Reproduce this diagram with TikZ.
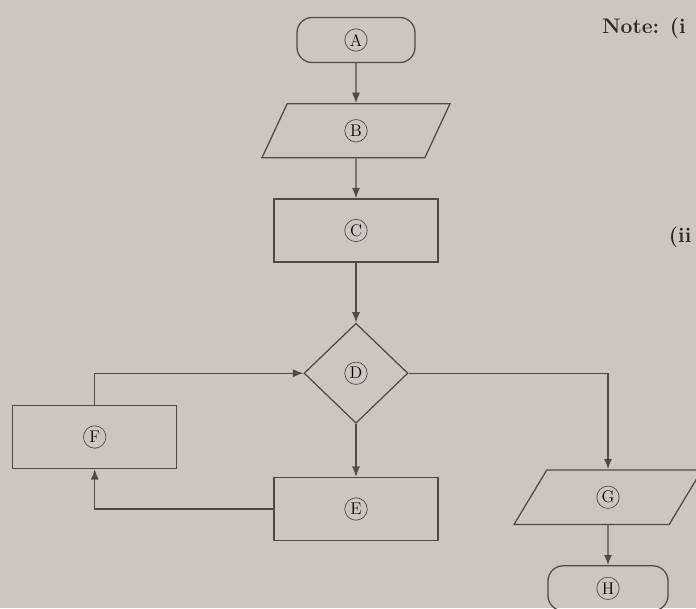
\documentclass[tikz,border=0pt]{standalone}
\usepackage{tikz}
\usetikzlibrary{shapes.geometric, arrows.meta, positioning}
\definecolor{paper}{RGB}{203,199,190}
\definecolor{ink}{RGB}{78,74,70}
\definecolor{print}{RGB}{45,40,36}

\begin{document}
\begin{tikzpicture}[node distance=1cm]
        \tikzstyle{terminal} = [rectangle, rounded corners=0.38cm, minimum width=2.95cm, minimum height=1.125cm, text centered, draw=ink, line width=0.9pt, font=\large]
        \tikzstyle{io} = [trapezium, trapezium left angle=65, trapezium right angle=115, trapezium stretches body, minimum width=4.7cm, inner ysep=0.53cm, text centered, draw=ink, line width=0.9pt, font=\large]
        \tikzstyle{process} = [rectangle, minimum width=4.1cm, minimum height=1.575cm, text centered, draw=ink, line width=0.9pt, font=\large]
        \tikzstyle{decision} = [diamond, minimum width=2.6cm, minimum height=2.5cm, inner sep=0pt, text centered, draw=ink, line width=0.9pt, font=\large]
        \tikzstyle{arrow} = [draw=ink, line width=0.9pt, -{Latex[length=2.6mm, width=2mm]}]

        \fill [paper] (0,0) rectangle (17.4,-15.2);
        \useasboundingbox (0,0) rectangle (17.4,-15.2);

        \node (a) [terminal] at (8.9,-1.0) {A};
        \node (b) [io, below=of a] {B};
        \node (c) [process, below=of b] {C};
        \node (d) [decision, below=1.5cm of c] {D};
        \node (e) [process, below=1.325cm of d] {E};
        \node (f) [process, left=2.4cm of e, yshift=1.8cm] {F};
        \node (g) [io, trapezium left angle=59, trapezium right angle=121, minimum width=4.7cm, xshift=6.3cm, yshift=-3.1cm] at (d) {G};
        \node (h) [terminal, minimum width=3cm, below=of g] {H};

        \foreach \n in {a,b,c,d,e,f,g,h}
            \draw [ink, line width=0.5pt] (\n.center) circle (0.28cm);

        \node (note) [anchor=base west, text=print, font=\bfseries\fontsize{15}{18}\selectfont] at (14.93,-0.83) {Note: (i};
        \node (ii) [anchor=base west, text=print, font=\bfseries\fontsize{15}{18}\selectfont] at (16.6,-6.07) {(ii};

        \draw [arrow] (a) -- (b);
        \draw [arrow] (b) -- (c);
        \draw [arrow] (c) -- (d);
        \draw [arrow] (d) -- (e);
        \draw [arrow] (d.east) -| (g);
        \draw [arrow] (g) -- (h);
        \draw [arrow] (e.west) -| (f.south);
        \draw [arrow] (f.north) |- (d.west);
    \end{tikzpicture}
\end{document}
